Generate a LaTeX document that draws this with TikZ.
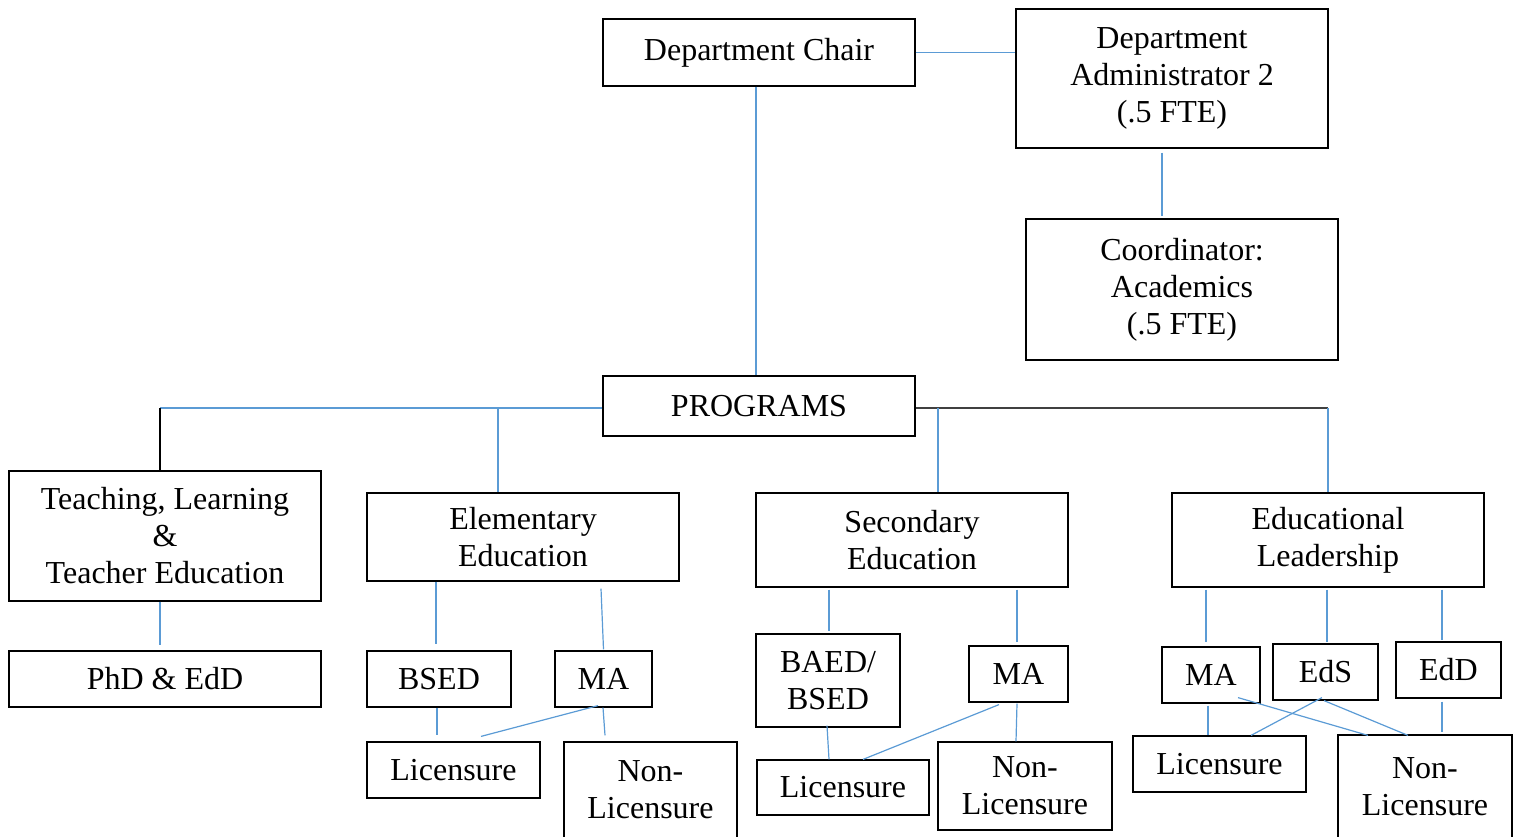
\documentclass[tikz,border=0pt]{standalone}
\usepackage{fontspec}
\setmainfont{Liberation Serif}
\usepackage{tikz}
\definecolor{linkblue}{RGB}{91,155,213}
\definecolor{bargray}{RGB}{64,64,64}
\tikzset{
  unit/.style={draw=black, line width=1.2pt, inner sep=0pt, align=center,
    font=\fontsize{32}{37}\selectfont},
  link/.style={draw=linkblue, line width=1.2pt},
  darklink/.style={draw=black, line width=1.2pt},
  barlink/.style={draw=bargray, line width=2pt},
}

\begin{document}
\begin{tikzpicture}[x=1pt,y=-1pt]
            \useasboundingbox (0,0) rectangle (1517,837);
            \clip (0,0) rectangle (1517,837);
            \node[unit, minimum width=312pt, minimum height=67pt] (chair) at (759,52.5) {Department Chair};
            \node[unit, minimum width=312pt, minimum height=139pt] (admin) at (1172,78.5) {Department\\Administrator 2\\(.5 FTE)};
            \node[unit, minimum width=312pt, minimum height=141pt] (coord) at (1182,289.5) {Coordinator:\\Academics\\(.5 FTE)};
            \node[unit, minimum width=312pt, minimum height=60pt] (prog) at (759,406) {PROGRAMS};
            \node[unit, minimum width=312pt, minimum height=130pt] (tlte) at (165,536) {Teaching, Learning\\\&\\Teacher Education};
            \node[unit, minimum width=312pt, minimum height=88pt] (elem) at (523,537) {Elementary\\Education};
            \node[unit, minimum width=312pt, minimum height=94pt] (sec) at (912,540) {Secondary\\Education};
            \node[unit, minimum width=312pt, minimum height=94pt] (lead) at (1328,540) {Educational\\Leadership};
            \node[unit, minimum width=312pt, minimum height=56pt] (phd) at (165,679) {PhD \& EdD};
            \node[unit, minimum width=144pt, minimum height=56pt] (bsed) at (439,679) {BSED};
            \node[unit, minimum width=97pt, minimum height=56pt] (ma1) at (603.5,679) {MA};
            \node[unit, minimum width=173pt, minimum height=56pt] (lic1) at (453.5,770) {Licensure};
            \node[unit, minimum width=173pt, minimum height=96pt] (non1) at (650.5,790) {Non-\\Licensure};
            \node[unit, minimum width=144pt, minimum height=93pt] (baed) at (828,680.5) {BAED/\\BSED};
            \node[unit, minimum width=99pt, minimum height=56pt] (ma2) at (1018.5,674) {MA};
            \node[unit, minimum width=172pt, minimum height=55pt] (lic2) at (843,787.5) {Licensure};
            \node[unit, minimum width=174pt, minimum height=88pt] (non2) at (1025,786) {Non-\\Licensure};
            \node[unit, minimum width=98pt, minimum height=56pt] (ma3) at (1211,675) {MA};
            \node[unit, minimum width=105pt, minimum height=56pt] (eds) at (1325.5,672) {EdS};
            \node[unit, minimum width=105pt, minimum height=56pt] (edd) at (1448.5,670) {EdD};
            \node[unit, minimum width=173pt, minimum height=56pt] (lic3) at (1219.5,764) {Licensure};
            \node[unit, minimum width=174pt, minimum height=103pt] (non3) at (1425,786.5) {Non-\\Licensure};
            \coordinate (barL) at (160,408);
            \coordinate (barR) at (1328,408);
            \coordinate (brE) at (498,408);
            \coordinate (brS) at (938,408);
            \draw[link] (chair.east) -- (admin.west |- chair.east);
            \draw[link] ([xshift=-3pt]chair.south) -- ([xshift=-3pt]prog.north);
            \draw[link] ([xshift=-10pt,yshift=-4pt]admin.south) -- ([xshift=-20pt,yshift=2pt]coord.north);
            \draw[link] ([yshift=-2pt]prog.west) -- (barL);
            \draw[darklink] (barL) -- (barL |- tlte.north);
            \draw[link] (brE) -- (brE |- elem.north);
            \draw[barlink] ([yshift=-2pt]prog.east) -- (barR);
            \draw[link] (barR) -- (barR |- lead.north);
            \draw[link] (brS) -- (brS |- sec.north);
            \draw[link] ([xshift=-5pt]tlte.south) -- ([xshift=-5pt,yshift=5pt]phd.north);
            \draw[link] ([xshift=-87pt]elem.south) -- ([xshift=-3pt,yshift=6pt]bsed.north);
            \draw[link] ([xshift=78pt,yshift=-7pt]elem.south) -- ([yshift=1pt]ma1.north);
            \draw[link] ([xshift=-2pt]bsed.south) -- ([xshift=-16.5pt,yshift=6pt]lic1.north);
            \draw[link] ([xshift=-5.5pt,yshift=2pt]ma1.south) -- ([xshift=27.5pt,yshift=5pt]lic1.north);
            \draw[link] ([xshift=-0.5pt]ma1.south) -- ([xshift=-45.5pt,yshift=6pt]non1.north);
            \draw[link] ([xshift=-83pt,yshift=-2pt]sec.south) -- ([xshift=1pt,yshift=2pt]baed.north);
            \draw[link] ([xshift=105pt,yshift=-2pt]sec.south) -- ([xshift=-1.5pt,yshift=3pt]ma2.north);
            \draw[link] ([xshift=-1pt,yshift=2pt]baed.south) -- ([xshift=-14pt]lic2.north);
            \draw[link] ([xshift=-19.5pt,yshift=-2pt]ma2.south) -- ([xshift=20pt]lic2.north);
            \draw[link] ([xshift=-1.5pt,yshift=-1pt]ma2.south) -- ([xshift=-9pt]non2.north);
            \draw[link] ([xshift=-122pt,yshift=-2pt]lead.south) -- ([xshift=-5pt,yshift=4pt]ma3.north);
            \draw[link] ([xshift=-1pt,yshift=-2pt]lead.south) -- ([xshift=1.5pt,yshift=1pt]eds.north);
            \draw[link] ([xshift=114pt,yshift=-2pt]lead.south) -- ([xshift=-6.5pt,yshift=1pt]edd.north);
            \draw[link] ([xshift=-3pt,yshift=-2pt]ma3.south) -- ([xshift=-11.5pt]lic3.north);
            \draw[link] ([xshift=27pt,yshift=6pt]ma3.south) -- ([xshift=-57pt,yshift=-1pt]non3.north);
            \draw[link] ([xshift=-3.5pt,yshift=3pt]eds.south) -- ([xshift=31.5pt]lic3.north);
            \draw[link] ([xshift=-1.5pt]eds.south) -- ([xshift=-17pt,yshift=-1pt]non3.north);
            \draw[link] ([xshift=-6.5pt,yshift=-3pt]edd.south) -- ([xshift=17pt,yshift=2pt]non3.north);
        \end{tikzpicture}
\end{document}
